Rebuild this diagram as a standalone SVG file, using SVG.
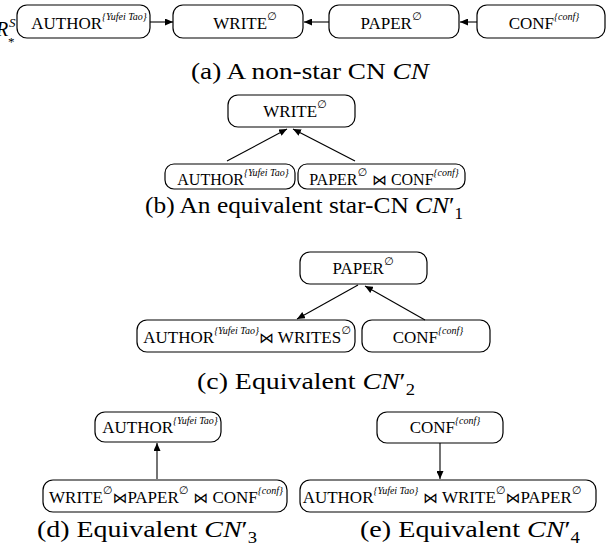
<svg xmlns="http://www.w3.org/2000/svg" width="613" height="559" viewBox="0 0 613 559" font-family="'Liberation Serif', Tinos, 'Times New Roman', Times, 'DejaVu Serif', serif">
<style>
.box{fill:#fff;stroke:#000;stroke-width:1.2}
.lb{font-size:17px;fill:#000}
.lbs{font-size:16px;fill:#000}
.sup{font-size:10px;font-style:italic}
.es{font-family:"DejaVu Sans",sans-serif;font-size:11px}
.bt{font-family:"DejaVu Sans",sans-serif;font-size:15px}
.cap{font-size:24px;fill:#000}
.it{font-style:italic}
.sub{font-size:16px}
.edge{stroke:#000;stroke-width:1.1;fill:none;marker-end:url(#ah)}
</style>
<defs>
<marker id="ah" viewBox="0 0 10 10" refX="10" refY="5" markerWidth="8" markerHeight="7" preserveAspectRatio="none" orient="auto" markerUnits="userSpaceOnUse"><path d="M0,0 L10,5 L0,10 z" fill="#000"/></marker>
</defs>
<rect width="613" height="559" fill="#fff"/>

<!-- (a) -->
<g id="rs">
<text x="-4" y="36" font-size="20" font-style="italic">R</text>
<text x="9" y="27" font-size="13" font-style="italic">S</text>
<text x="8" y="46" font-size="13">*</text>
</g>
<g id="a_author"><rect class="box" x="17" y="5" width="133" height="33" rx="10"/>
<text class="lb" x="89" y="29" text-anchor="middle">AUTHOR<tspan class="sup" dy="-9">{Yufei Tao}</tspan></text></g>
<g id="a_write"><rect class="box" x="173" y="5" width="130" height="33" rx="10"/>
<text class="lb" x="245" y="29" text-anchor="middle">WRITE<tspan class="es" dy="-9">∅</tspan></text></g>
<g id="a_paper"><rect class="box" x="329" y="5" width="130" height="33" rx="10"/>
<text class="lb" x="391" y="29" text-anchor="middle">PAPER<tspan class="es" dy="-9">∅</tspan></text></g>
<g id="a_conf"><rect class="box" x="477" y="5" width="128" height="33" rx="10"/>
<text class="lb" x="544" y="29" text-anchor="middle">CONF<tspan class="sup" dy="-9">{conf}</tspan></text></g>

<!-- (b) -->
<g id="b_write"><rect class="box" x="228" y="95" width="127" height="32" rx="10"/>
<text class="lb" x="295" y="117" text-anchor="middle">WRITE<tspan class="es" dy="-9">∅</tspan></text></g>
<g id="b_author"><rect class="box" x="165" y="164" width="130" height="25" rx="9"/>
<text class="lbs" x="233" y="185" text-anchor="middle">AUTHOR<tspan class="sup" dy="-9">{Yufei Tao}</tspan></text></g>
<g id="b_paperconf"><rect class="box" x="298" y="164" width="167" height="25" rx="9"/>
<text class="lbs" x="384" y="185" text-anchor="middle">PAPER<tspan class="es" dy="-9">∅</tspan><tspan class="bt" dy="9"> ⋈</tspan> CONF<tspan class="sup" dy="-9">{conf}</tspan></text></g>

<!-- (c) -->
<g id="c_paper"><rect class="box" x="300" y="252" width="127" height="32" rx="10"/>
<text class="lb" x="363" y="274" text-anchor="middle">PAPER<tspan class="es" dy="-9">∅</tspan></text></g>
<g id="c_authorwrites"><rect class="box" x="137" y="320" width="218" height="32" rx="10"/>
<text class="lb" x="247" y="343" text-anchor="middle">AUTHOR<tspan class="sup" dy="-9">{Yufei Tao}</tspan><tspan class="bt" dy="9">⋈</tspan> WRITES<tspan class="es" dy="-9">∅</tspan></text></g>
<g id="c_conf"><rect class="box" x="362" y="320" width="128" height="32" rx="10"/>
<text class="lb" x="428" y="343" text-anchor="middle">CONF<tspan class="sup" dy="-9">{conf}</tspan></text></g>

<!-- (d) -->
<g id="d_author"><rect class="box" x="95" y="412" width="126" height="30" rx="10"/>
<text class="lb" x="160" y="433" text-anchor="middle">AUTHOR<tspan class="sup" dy="-9">{Yufei Tao}</tspan></text></g>
<g id="d_bottom"><rect class="box" x="43" y="480" width="244" height="32" rx="10"/>
<text class="lb" x="166" y="503" text-anchor="middle">WRITE<tspan class="es" dy="-9">∅</tspan><tspan class="bt" dy="9">⋈</tspan>PAPER<tspan class="es" dy="-9">∅</tspan><tspan class="bt" dy="9"> ⋈</tspan> CONF<tspan class="sup" dy="-9">{conf}</tspan></text></g>

<!-- (e) -->
<g id="e_conf"><rect class="box" x="377" y="412" width="126" height="31" rx="10"/>
<text class="lb" x="445" y="433" text-anchor="middle">CONF<tspan class="sup" dy="-9">{conf}</tspan></text></g>
<g id="e_bottom"><rect class="box" x="300" y="480" width="296" height="32" rx="10"/>
<text class="lb" x="442" y="503" text-anchor="middle">AUTHOR<tspan class="sup" dy="-9">{Yufei Tao}</tspan><tspan class="bt" dy="9"> ⋈</tspan> WRITE<tspan class="es" dy="-9">∅</tspan><tspan class="bt" dy="9">⋈</tspan>PAPER<tspan class="es" dy="-9">∅</tspan></text></g>

<g id="connectors">
<line class="edge" x1="150" y1="22" x2="173" y2="22"/>
<line class="edge" x1="329" y1="22" x2="304" y2="22"/>
<line class="edge" x1="477" y1="22" x2="460" y2="22"/>
<line class="edge" x1="227" y1="161" x2="287" y2="129"/>
<line class="edge" x1="355" y1="161" x2="293" y2="129"/>
<line class="edge" x1="358" y1="285" x2="297" y2="319"/>
<line class="edge" x1="425" y1="320" x2="365" y2="286"/>
<line class="edge" x1="157" y1="479" x2="157" y2="443"/>
<line class="edge" x1="440" y1="443" x2="440" y2="479"/>
</g>

<g id="captions">
<text class="cap" x="191" y="79" textLength="238" lengthAdjust="spacingAndGlyphs">(a) A non-star CN <tspan class="it">CN</tspan></text>
<text class="cap" x="145" y="213" textLength="318" lengthAdjust="spacingAndGlyphs">(b) An equivalent star-CN <tspan class="it">CN</tspan>′<tspan class="sub" dy="6">1</tspan></text>
<text class="cap" x="197" y="389" textLength="218" lengthAdjust="spacingAndGlyphs">(c) Equivalent <tspan class="it">CN</tspan>′<tspan class="sub" dy="6">2</tspan></text>
<text class="cap" x="37" y="537" textLength="220" lengthAdjust="spacingAndGlyphs">(d) Equivalent <tspan class="it">CN</tspan>′<tspan class="sub" dy="6">3</tspan></text>
<text class="cap" x="360" y="537" textLength="220" lengthAdjust="spacingAndGlyphs">(e) Equivalent <tspan class="it">CN</tspan>′<tspan class="sub" dy="6">4</tspan></text>
</g>
</svg>
